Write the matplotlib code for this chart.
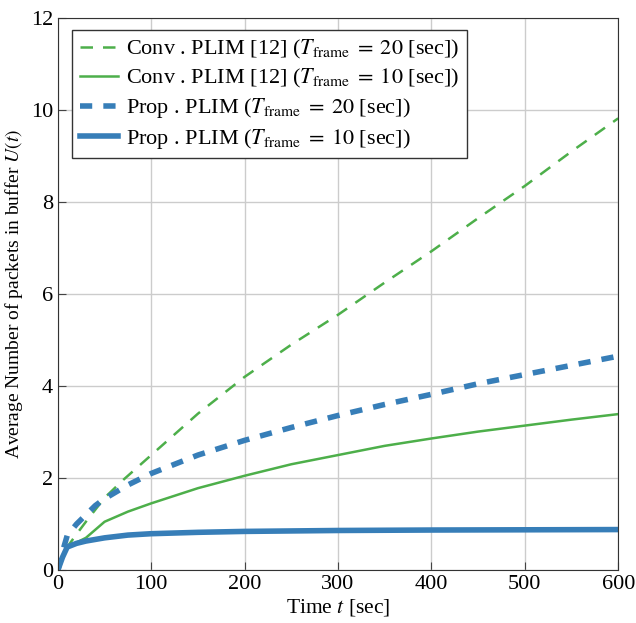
import matplotlib
matplotlib.use("Agg")
import matplotlib.pyplot as plt

plt.rcParams.update({"font.family": "serif", "font.serif": ["Liberation Serif"],
                     "mathtext.fontset": "stix"})

t_c20 = [0, 10, 20, 30, 50, 70, 100, 150, 200, 250, 300, 350, 400, 450, 500, 550, 600]
u_c20 = [0, 0.5, 0.78, 1.05, 1.57, 1.96, 2.5, 3.4, 4.2, 4.9, 5.55, 6.25, 6.93, 7.65, 8.35, 9.1, 9.82]

t_c10 = [0, 10, 20, 30, 50, 75, 100, 150, 200, 250, 300, 350, 400, 450, 500, 550, 600]
u_c10 = [0, 0.5, 0.6, 0.7, 1.05, 1.27, 1.45, 1.78, 2.05, 2.3, 2.5, 2.7, 2.86, 3.01, 3.14, 3.27, 3.39]

t_p20 = [0, 5, 10, 20, 30, 40, 50, 75, 100, 150, 200, 250, 300, 350, 400, 450, 500, 550, 600]
u_p20 = [0, 0.4, 0.75, 1.0, 1.2, 1.4, 1.55, 1.85, 2.1, 2.5, 2.82, 3.1, 3.36, 3.6, 3.82, 4.05, 4.25, 4.45, 4.65]

t_p10 = [0, 5, 10, 20, 30, 50, 75, 100, 150, 200, 300, 400, 500, 600]
u_p10 = [0, 0.28, 0.5, 0.58, 0.63, 0.7, 0.76, 0.79, 0.82, 0.84, 0.86, 0.87, 0.875, 0.88]

GREEN = "#4daf4a"
BLUE = "#377eb8"

fig = plt.figure(figsize=(6.36, 6.23), dpi=100)
ax = fig.add_axes([0.091, 0.085, 0.881, 0.886])

ax.plot(t_c20, u_c20, color=GREEN, lw=1.8, dashes=(5, 4),
        label=r"Conv . PLIM [12] ($T_{\mathrm{frame}}\;=\;20$ [sec])")
ax.plot(t_c10, u_c10, color=GREEN, lw=1.8,
        label=r"Conv . PLIM [12] ($T_{\mathrm{frame}}\;=\;10$ [sec])")
ax.plot(t_p20, u_p20, color=BLUE, lw=4, dashes=(2.2, 2),
        label=r"Prop . PLIM ($T_{\mathrm{frame}}\;=\;20$ [sec])")
ax.plot(t_p10, u_p10, color=BLUE, lw=4,
        label=r"Prop . PLIM ($T_{\mathrm{frame}}\;=\;10$ [sec])")

ax.set_xlim(0, 600)
ax.set_ylim(0, 12)
ax.set_xticks(range(0, 601, 100))
ax.set_yticks(range(0, 13, 2))
ax.grid(True, color="#cccccc", lw=1)
ax.set_axisbelow(True)
ax.tick_params(direction="in", labelsize=16, length=6, color="#444444")
ax.set_xlabel(r"Time $t$ [sec]", fontsize=15.5, labelpad=2)
ax.set_ylabel(r"Average Number of packets in buffer $U(t)$", fontsize=14, labelpad=4)
for s in ax.spines.values():
    s.set_color("#333333")

leg = ax.legend(loc="upper left", bbox_to_anchor=(0.026, 0.978), borderaxespad=0,
                fontsize=16, fancybox=False, framealpha=1,
                edgecolor="#333333", handlelength=1.7, borderpad=0.35,
                labelspacing=0.28, handletextpad=0.35)
leg.get_frame().set_linewidth(1)

fig.savefig("out.png", dpi=100)
